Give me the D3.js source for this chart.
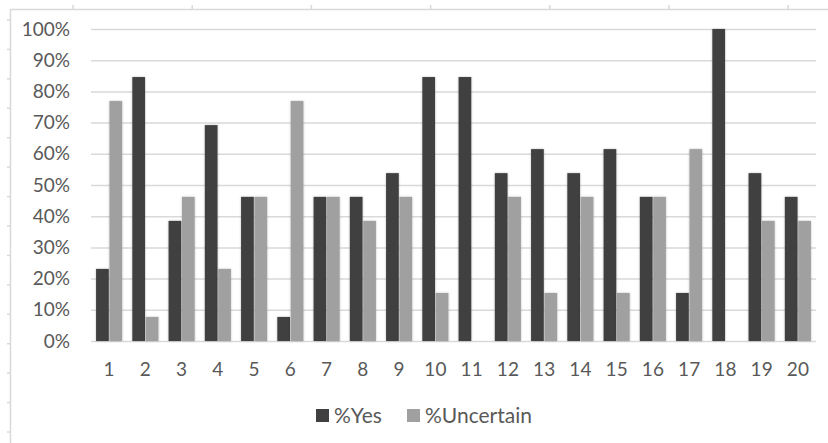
<!DOCTYPE html>
<html>
<head>
<meta charset="utf-8">
<script src="https://cdn.jsdelivr.net/npm/d3@7"></script>
<style>
  html, body { margin: 0; padding: 0; background: #fff; }
  svg { display: block; }
  text { font-family: Lato, "Liberation Sans", Arial, sans-serif; fill: #595959; }
</style>
</head>
<body>
<svg id="chart" width="828" height="443"></svg>
<script>
// Question numbers along the x axis
const categories = ["1","2","3","4","5","6","7","8","9","10","11","12","13","14","15","16","17","18","19","20"];
// Share of respondents answering "yes" (percent)
const yesValues = [23.1, 84.6, 38.5, 69.2, 46.2, 7.7, 46.2, 46.2, 53.8, 84.6, 84.6, 53.8, 61.5, 53.8, 61.5, 46.2, 15.4, 100, 53.8, 46.2];
// Share of respondents who were uncertain (percent)
const uncertainValues = [76.9, 7.7, 46.2, 23.1, 46.2, 76.9, 46.2, 38.5, 46.2, 15.4, 0, 46.2, 15.4, 46.2, 15.4, 46.2, 61.5, 0, 38.5, 38.5];
const seriesNames = ["%Yes", "%Uncertain"];
const yTicks = [0, 10, 20, 30, 40, 50, 60, 70, 80, 90, 100];

const colors = { "%Yes": "#404040", "%Uncertain": "#a0a0a0" };
const gridColor = "#d9d9d9";

const svg = d3.select("#chart");
const W = 828, H = 443;
const plot = { left: 91, right: 816, top: 29, bottom: 341 };

// Outer frame with small ruler marks along its top and left edges
const frame = svg.append("g");
frame.append("line").attr("x1", 10).attr("x2", W).attr("y1", 9.5).attr("y2", 9.5)
  .attr("stroke", gridColor).attr("stroke-width", 1.5);
frame.append("line").attr("x1", 10.5).attr("x2", 10.5).attr("y1", 9).attr("y2", H)
  .attr("stroke", gridColor).attr("stroke-width", 1.5);
d3.range(7).forEach(i => {
  const x = 73 + i * 119.2;
  frame.append("line").attr("x1", x).attr("x2", x).attr("y1", 5).attr("y2", 9)
    .attr("stroke", gridColor).attr("stroke-width", 1.5);
});
d3.range(15).forEach(i => {
  const y = 20 + i * 29.43;
  frame.append("line").attr("x1", 7).attr("x2", 10).attr("y1", y).attr("y2", y)
    .attr("stroke", gridColor).attr("stroke-width", 1.5);
});

// Scales
const x0 = d3.scaleBand().domain(categories).range([plot.left, plot.right]).paddingInner(0.28).paddingOuter(0.14);
const x1 = d3.scaleBand().domain(seriesNames).range([0, x0.bandwidth()]).paddingInner(0.05);
const y = d3.scaleLinear().domain([0, 100]).range([plot.bottom, plot.top]);

// Soft shadow around bars
const defs = svg.append("defs");
const f = defs.append("filter").attr("id", "shadow").attr("x", "-50%").attr("y", "-10%").attr("width", "200%").attr("height", "120%");
f.append("feGaussianBlur").attr("in", "SourceAlpha").attr("stdDeviation", 1.2).attr("result", "blur");
f.append("feFlood").attr("flood-color", "#000").attr("flood-opacity", 0.25).attr("result", "col");
f.append("feComposite").attr("in", "col").attr("in2", "blur").attr("operator", "in").attr("result", "sh");
const m = f.append("feMerge");
m.append("feMergeNode").attr("in", "sh");
m.append("feMergeNode").attr("in", "SourceGraphic");

// Horizontal gridlines and y labels
const yAxis = d3.axisLeft(y).tickValues(yTicks).tickSize(-(plot.right - plot.left)).tickPadding(21).tickFormat(d => d + "%");
const gy = svg.append("g").attr("transform", `translate(${plot.left},0)`).call(yAxis);
gy.select(".domain").remove();
gy.selectAll(".tick line").attr("stroke", gridColor).attr("stroke-width", 1.5);
gy.selectAll(".tick text").attr("font-size", 19).attr("fill", "#595959");

// Bars
const rows = categories.map((c, i) => ({ cat: c, vals: [
  { key: "%Yes", v: yesValues[i] },
  { key: "%Uncertain", v: uncertainValues[i] }
]}));
const groups = svg.append("g").selectAll("g").data(rows).join("g")
  .attr("transform", d => `translate(${x0(d.cat)},0)`);
groups.selectAll("rect").data(d => d.vals.filter(e => e.v > 0)).join("rect")
  .attr("x", d => x1(d.key))
  .attr("width", x1.bandwidth())
  .attr("y", d => y(d.v))
  .attr("height", d => y(0) - y(d.v))
  .attr("fill", d => colors[d.key])
  .attr("filter", "url(#shadow)");

// Category labels
const xAxis = d3.axisBottom(x0).tickSize(0).tickPadding(22);
const gx = svg.append("g").attr("transform", `translate(0,${plot.bottom})`).call(xAxis);
gx.select(".domain").remove();
gx.selectAll(".tick text").attr("font-size", 19).attr("fill", "#595959");

// Legend
const legendItems = [
  { name: "%Yes", x: 316 },
  { name: "%Uncertain", x: 407 }
];
const lg = svg.append("g");
legendItems.forEach(it => {
  lg.append("rect").attr("x", it.x).attr("y", 409).attr("width", 13).attr("height", 13).attr("fill", colors[it.name]);
  lg.append("text").attr("x", it.x + 18).attr("y", 423).attr("font-size", 21).text(it.name);
});
</script>
</body>
</html>
